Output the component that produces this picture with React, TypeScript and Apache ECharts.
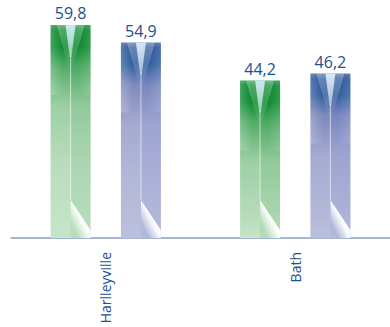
import React, { useEffect, useRef } from 'react';
import * as echarts from 'echarts';

const categories = ['Harlleyville', 'Bath'];
const greenValues = [59.8, 44.2];
const blueValues = [54.9, 46.2];

const GREEN_STOPS: [number, string][] = [
  [0, '#2f9a50'], [5, '#0a882c'], [22, '#0f8b32'], [42, '#54ad68'], [80, '#9ccfa4'], [140, '#b9ddbc'], [9999, '#c6e5c8'],
];
const BLUE_STOPS: [number, string][] = [
  [0, '#52709f'], [5, '#2a5699'], [22, '#34609f'], [42, '#7d8abd'], [80, '#a3a9d0'], [140, '#b4b8d8'], [9999, '#bcbfdc'],
];

function stopsFor(px: [number, string][], h: number) {
  return px.map(([p, c]) => ({ offset: Math.min(1, p / h), color: c }));
}

function makeRender(offsetFrac: number, palette: [number, string][], shade: string, tip: string) {
  return (params: any, api: any) => {
    const cat = api.value(0);
    const val = api.value(1);
    const top = api.coord([cat, val]);
    const base = api.coord([cat, 0]);
    const band = api.size([1, 0])[0];
    const w = band * 0.211;
    const cx = top[0] + band * offsetFrac;
    const x0 = cx - w / 2;
    const x1 = cx + w / 2;
    const y0 = top[1];
    const yb = base[1];
    const h = yb - y0;
    const label = String(val).replace('.', ',');
    return {
      type: 'group',
      children: [
        {
          type: 'rect',
          shape: { x: x0, y: y0, width: w, height: h },
          style: { fill: new echarts.graphic.LinearGradient(0, 0, 0, 1, stopsFor(palette, h)) },
        },
        {
          type: 'rect',
          shape: { x: x0, y: y0, width: w, height: 70 },
          style: {
            fill: new echarts.graphic.LinearGradient(0, 0, 1, 0, [
              { offset: 0, color: 'rgba(255,255,255,0.22)' },
              { offset: 0.3, color: 'rgba(255,255,255,0)' },
              { offset: 0.7, color: 'rgba(255,255,255,0)' },
              { offset: 1, color: 'rgba(255,255,255,0.15)' },
            ]),
          },
        },
        {
          type: 'rect',
          shape: { x: cx, y: y0 + 30, width: w / 2, height: h - 30 },
          style: { fill: shade },
        },
        {
          type: 'polygon',
          shape: { points: [[cx - 14, y0], [cx + 14, y0], [cx + 1, y0 + 45], [cx - 1, y0 + 45]] },
          style: {
            fill: new echarts.graphic.LinearGradient(0, 0, 0, 1, [
              { offset: 0, color: 'rgba(255,255,255,0.3)' },
              { offset: 1, color: 'rgba(255,255,255,0)' },
            ]),
          },
        },
        {
          type: 'polygon',
          shape: { points: [[cx - 5, y0], [cx + 5, y0], [cx + 0.8, y0 + 32], [cx - 0.8, y0 + 32]] },
          style: {
            fill: new echarts.graphic.LinearGradient(0, 0, 0, 1, [
              { offset: 0, color: tip },
              { offset: 1, color: 'rgba(255,255,255,0.45)' },
            ]),
          },
        },
        {
          type: 'line',
          shape: { x1: cx, y1: y0 + 30, x2: cx, y2: yb - 38 },
          style: { stroke: 'rgba(255,255,255,0.5)', lineWidth: 1.2 },
        },
        {
          type: 'polygon',
          shape: { points: [[cx, yb - 38], [x1, yb - 8], [x1, yb], [cx, yb]] },
          style: {
            fill: new echarts.graphic.LinearGradient(1, 0, 0, 1, [
              { offset: 0, color: 'rgba(255,255,255,1)' },
              { offset: 0.5, color: 'rgba(255,255,255,0.95)' },
              { offset: 0.8, color: 'rgba(255,255,255,0)' },
            ]),
          },
        },
        {
          type: 'text',
          x: cx,
          y: y0 - 4,
          style: {
            text: label,
            align: 'center',
            verticalAlign: 'bottom',
            fill: '#1d4f91',
            fontSize: 16,
            fontFamily: 'Open Sans',
          },
        },
      ],
    };
  };
}

export default function App() {
  const ref = useRef<HTMLDivElement>(null);
  useEffect(() => {
    if (!ref.current) return;
    const chart = echarts.init(ref.current, null, { renderer: 'svg' });
    chart.setOption({
      animation: false,
      grid: { left: 11, top: 3, width: 388, bottom: 89, containLabel: false },
      xAxis: {
        type: 'category',
        data: categories,
        axisLine: { lineStyle: { color: '#8c9dc4', width: 1.5 } },
        axisTick: { inside: true, length: 6, lineStyle: { color: '#6f7f9f', width: 1 } },
        axisLabel: {
          rotate: 90,
          color: '#1d4f91',
          fontSize: 14,
          fontFamily: 'Open Sans',
          margin: 14,
        },
      },
      yAxis: { type: 'value', min: 0, max: 66, show: false, splitLine: { show: false } },
      series: [
        {
          type: 'custom',
          name: 'green',
          renderItem: makeRender(-0.1856, GREEN_STOPS, 'rgba(20,140,50,0.08)', 'rgba(200,235,250,0.95)'),
          encode: { x: 0, y: 1 },
          data: greenValues.map((v, i) => [i, v]),
        },
        {
          type: 'custom',
          name: 'blue',
          renderItem: makeRender(0.1856, BLUE_STOPS, 'rgba(90,100,220,0.08)', 'rgba(215,235,250,0.95)'),
          encode: { x: 0, y: 1 },
          data: blueValues.map((v, i) => [i, v]),
        },
      ],
    });
    return () => chart.dispose();
  }, []);
  return (
    <div
      ref={ref}
      style={{ position: 'fixed', left: 0, top: 0, width: 390, height: 327, background: '#fff' }}
    />
  );
}
